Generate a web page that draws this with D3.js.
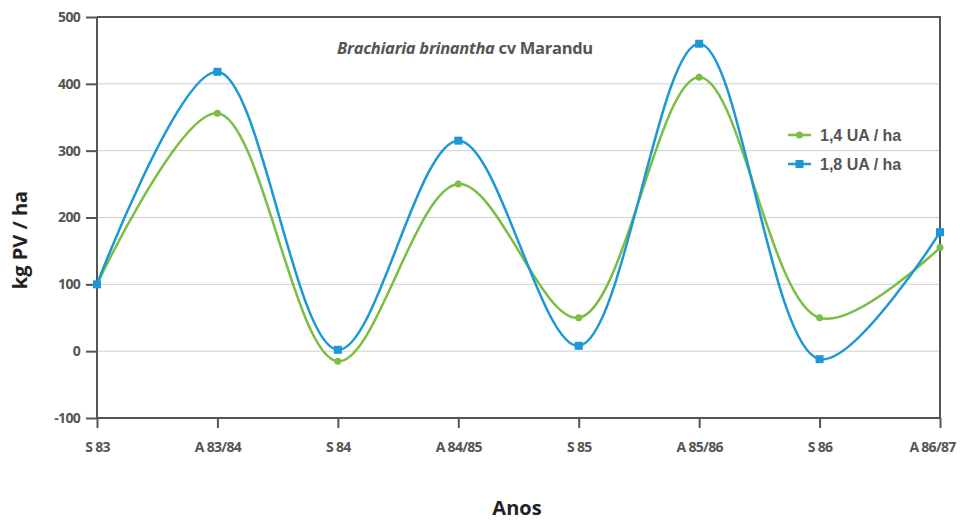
<!DOCTYPE html>
<html lang="en">
<head>
    <meta charset="UTF-8">
    <title>Brachiaria brinantha cv Marandu</title>
    <script src="https://d3js.org/d3.v7.min.js"></script>
    <style>
        body { margin: 0; background: #fff; }
        .tick text { font: bold 14px "Open Sans", sans-serif; fill: #555; letter-spacing: -0.7px; }
        .legend text { font: bold 16px "Liberation Sans", Arial, sans-serif; fill: #555; }
    </style>
</head>
<body>
    <script>
        const categories = ["S 83", "A 83/84", "S 84", "A 84/85", "S 85", "A 85/86", "S 86", "A 86/87"];
        const low = [100, 356, -15, 250, 50, 410, 50, 155];
        const high = [100, 418, 2, 315, 8, 460, -12, 178];
        const yTicks = [-100, 0, 100, 200, 300, 400, 500];

        const width = 960, height = 521;
        const margin = { left: 97, right: 20, top: 17, bottom: 103 };

        const svg = d3.select("body").append("svg")
            .attr("width", width)
            .attr("height", height);

        const x = d3.scalePoint()
            .domain(categories)
            .range([margin.left, width - margin.right]);

        const y = d3.scaleLinear()
            .domain([-100, 500])
            .range([height - margin.bottom, margin.top]);

        // gridlines
        svg.append("g")
            .selectAll("line")
            .data(yTicks.filter(d => d > -100 && d < 500))
            .enter().append("line")
            .attr("x1", margin.left)
            .attr("x2", width - margin.right)
            .attr("y1", d => y(d))
            .attr("y2", d => y(d))
            .attr("stroke", "#cfcfcf")
            .attr("stroke-width", 1);

        // frame (top and right)
        svg.append("path")
            .attr("d", `M${margin.left},${y(500)}H${width - margin.right}V${y(-100)}`)
            .attr("fill", "none")
            .attr("stroke", "#555")
            .attr("stroke-width", 2);

        const yAxis = svg.append("g")
            .attr("transform", `translate(${margin.left},0)`)
            .call(d3.axisLeft(y).tickValues(yTicks).tickSize(11).tickPadding(6).tickFormat(d => String(d)));

        const xAxis = svg.append("g")
            .attr("transform", `translate(0,${y(-100)})`)
            .call(d3.axisBottom(x).tickSize(10).tickPadding(14));

        [yAxis, xAxis].forEach(a => {
            a.select(".domain").attr("stroke", "#555").attr("stroke-width", 2);
            a.selectAll(".tick line").attr("stroke", "#555").attr("stroke-width", 2);
        });
        xAxis.select(".domain").attr("d", `M${margin.left},0H${width - margin.right}`);
        yAxis.select(".domain").attr("d", `M0,${y(500)}V${y(-100)}`);
        // last label sits a bit left so it stays inside the page
        xAxis.selectAll(".tick text").filter(d => d === "A 86/87").attr("dx", -8);

        const line = d3.line()
            .x((d, i) => x(categories[i]))
            .y(d => y(d))
            .curve(d3.curveCatmullRom.alpha(0.5));

        const series = [
            { name: "1,4 UA / ha", values: low, color: "#7abf43", shape: "circle" },
            { name: "1,8 UA / ha", values: high, color: "#1b98d5", shape: "square" }
        ];

        series.forEach(s => {
            svg.append("path")
                .attr("d", line(s.values))
                .attr("fill", "none")
                .attr("stroke", s.color)
                .attr("stroke-width", 2.5);

            const pts = svg.append("g").selectAll("g")
                .data(s.values)
                .enter();
            if (s.shape === "circle") {
                pts.append("circle")
                    .attr("cx", (d, i) => x(categories[i]))
                    .attr("cy", d => y(d))
                    .attr("r", 3.5)
                    .attr("fill", s.color);
            } else {
                pts.append("rect")
                    .attr("x", (d, i) => x(categories[i]) - 4)
                    .attr("y", d => y(d) - 4)
                    .attr("width", 8)
                    .attr("height", 8)
                    .attr("fill", s.color);
            }
        });

        // legend
        const legend = svg.append("g").attr("class", "legend")
            .attr("transform", "translate(788,135)");
        series.forEach((s, i) => {
            const row = legend.append("g").attr("transform", `translate(0,${i * 29})`);
            row.append("line")
                .attr("x1", 0).attr("x2", 23)
                .attr("stroke", s.color).attr("stroke-width", 2.5);
            if (s.shape === "circle") {
                row.append("circle").attr("cx", 11.5).attr("r", 3.5).attr("fill", s.color);
            } else {
                row.append("rect").attr("x", 7.5).attr("y", -4).attr("width", 8).attr("height", 8).attr("fill", s.color);
            }
            row.append("text")
                .attr("x", 32)
                .attr("dy", "0.36em")
                .text(s.name);
        });

        // title
        const title = svg.append("text")
            .attr("x", 465)
            .attr("y", 54)
            .attr("text-anchor", "middle")
            .style("font", "bold 16.5px 'Open Sans', sans-serif")
            .style("letter-spacing", "-0.3px")
            .attr("fill", "#555");
        title.append("tspan").style("font-style", "italic").text("Brachiaria brinantha");
        title.append("tspan").text(" cv Marandu");

        // axis titles
        svg.append("text")
            .attr("transform", "translate(27,240) rotate(-90)")
            .attr("text-anchor", "middle")
            .style("font", "bold 20px 'Open Sans', sans-serif")
            .attr("fill", "#222")
            .text("kg PV / ha");

        svg.append("text")
            .attr("x", 517)
            .attr("y", 515)
            .attr("text-anchor", "middle")
            .style("font", "bold 20px 'Open Sans', sans-serif")
            .attr("fill", "#222")
            .text("Anos");
    </script>
</body>
</html>
